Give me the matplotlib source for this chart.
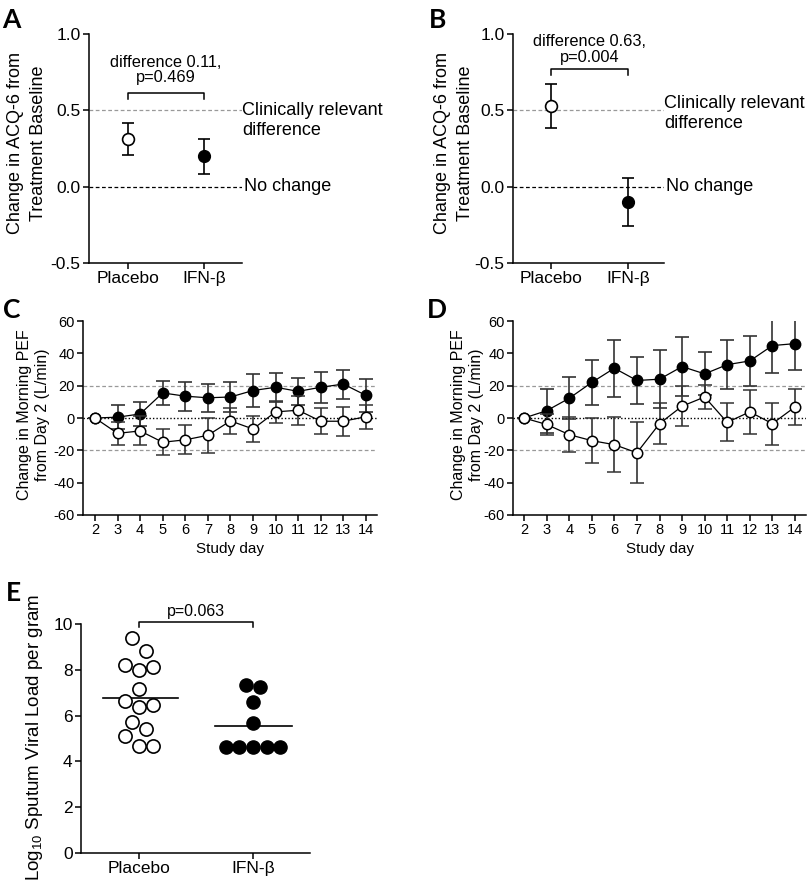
import numpy as np
import matplotlib
matplotlib.use("Agg")
import matplotlib.pyplot as plt

plt.rcParams['font.family'] = ['Liberation Sans', 'DejaVu Sans']
plt.rcParams['axes.unicode_minus'] = False
plt.rcParams['mathtext.fontset'] = 'custom'
plt.rcParams['mathtext.rm'] = 'Liberation Sans'

# ---- data ----
groups = ['Placebo', 'IFN-β']

# panels A / B : change in ACQ-6 (mean, SE)
acq_a_mean = [0.31, 0.20]
acq_a_se = [0.105, 0.115]
acq_b_mean = [0.53, -0.10]
acq_b_se = [0.145, 0.16]

# panels C / D : morning PEF by study day
days = [2, 3, 4, 5, 6, 7, 8, 9, 10, 11, 12, 13, 14]
pef_c_ifn = [0, 0.5, 2.5, 15.5, 13.5, 12.5, 13, 17, 19, 16.5, 19, 21, 14]
pef_c_ifn_se = [0, 7.5, 7.5, 7.5, 9, 8.5, 9, 10, 9, 8.5, 9.5, 9, 10]
pef_c_pla = [0, -9.5, -8, -15, -13.5, -10.7, -1.8, -6.8, 3.8, 4.8, -2, -2, 0.8]
pef_c_pla_se = [0, 7, 9, 8, 9, 11, 8, 8, 7, 9, 8, 9, 7.5]

pef_d_ifn = [0, 4.5, 12.2, 22, 30.8, 23.2, 24, 31.8, 27.3, 33, 35.3, 44.8, 46]
pef_d_ifn_se = [0, 13.5, 13, 13.7, 17.7, 14.7, 18, 18, 13.3, 15, 15.5, 17, 16.5]
pef_d_pla = [0, -4, -10.3, -14, -16.5, -21.5, -3.5, 7.3, 13, -2.7, 3.8, -3.5, 6.8]
pef_d_pla_se = [0, 6.5, 11, 13.8, 17, 19, 12.7, 12.5, 7.5, 11.7, 13.8, 13, 11]

# panel E : log10 sputum viral load per gram (listed top row first, left to right)
viral_pla = [9.39, 8.81, 8.21, 8.01, 8.11, 7.18, 6.63, 6.38, 6.48, 5.70, 5.41, 5.12, 4.67, 4.67]
viral_ifn = [7.34, 7.24, 6.60, 5.67, 4.65, 4.65, 4.65, 4.65, 4.65]

W, H = 812, 882
fig = plt.figure(figsize=(W / 100, H / 100), dpi=100)


def px_axes(l, t, r, b):
    return fig.add_axes([l / W, 1 - b / H, (r - l) / W, (b - t) / H])


def style(ax, fs):
    ax.spines['top'].set_visible(False)
    ax.spines['right'].set_visible(False)
    ax.spines['left'].set_linewidth(1.1)
    ax.spines['bottom'].set_linewidth(1.1)
    ax.tick_params(direction='out', length=4, width=1.1, labelsize=fs, pad=2)


def acq_panel(ax, mean, se, brk_y, txt, txt_y, clin_y):
    style(ax, 12.5)
    x = [1, 2]
    ax.axhline(0.5, color='#999999', ls=(0, (3, 2)), lw=0.9, zorder=1)
    ax.axhline(0.0, color='black', ls=(0, (3, 2)), lw=0.9, zorder=1)
    ax.errorbar(x[0], mean[0], yerr=se[0], fmt='o', mfc='white', mec='black', mew=1.2,
                ms=8.5, ecolor='black', elinewidth=1.2, capsize=4.3, capthick=1.2, zorder=3)
    ax.errorbar(x[1], mean[1], yerr=se[1], fmt='o', mfc='black', mec='black',
                ms=8.5, ecolor='black', elinewidth=1.2, capsize=4.3, capthick=1.2, zorder=3)
    ax.plot([1, 1, 2, 2], [brk_y - 0.04, brk_y, brk_y, brk_y - 0.04], color='black', lw=1.1)
    ax.text(1.5, txt_y, txt, ha='center', va='center', fontsize=11.8, linespacing=1.05)
    ax.set_ylim(-0.5, 1.0)
    ax.set_yticks([-0.5, 0.0, 0.5, 1.0])
    ax.set_yticklabels(['%.1f' % v for v in [-0.5, 0.0, 0.5, 1.0]])
    ax.set_xticks(x)
    ax.set_xticklabels(groups)
    ax.text(1.0, clin_y, 'Clinically relevant\ndifference', transform=ax.get_yaxis_transform(),
            ha='left', va='center', fontsize=13, linespacing=1.2, clip_on=False)
    ax.text(1.01, 0.0, 'No change', transform=ax.get_yaxis_transform(),
            ha='left', va='center', fontsize=13, clip_on=False)


axA = px_axes(89, 34, 242, 263)
axA.set_xlim(0.49, 2.5)
acq_panel(axA, acq_a_mean, acq_a_se, 0.614, 'difference 0.11,\np=0.469', 0.765, 0.432)

axB = px_axes(513, 34, 664, 263)
axB.set_xlim(0.506, 2.47)
acq_panel(axB, acq_b_mean, acq_b_se, 0.771, 'difference 0.63,\np=0.004', 0.90, 0.478)


def pef_panel(ax, ifn, ifn_se, pla, pla_se):
    style(ax, 10.5)
    ax.axhline(20, color='#999999', ls=(0, (3, 2)), lw=0.9, zorder=1)
    ax.axhline(-20, color='#999999', ls=(0, (3, 2)), lw=0.9, zorder=1)
    ax.axhline(0, color='black', ls=(0, (1, 1.5)), lw=1.0, zorder=1)
    ax.errorbar(days, ifn, yerr=ifn_se, fmt='-o', color='black', lw=0.9, mfc='black',
                ms=7.5, ecolor='#333333', elinewidth=1.2, capsize=5, capthick=1.2, zorder=3)
    ax.errorbar(days, pla, yerr=pla_se, fmt='-o', color='black', lw=0.9, mfc='white',
                mec='black', mew=1.1, ms=7.5, ecolor='#333333', elinewidth=1.2,
                capsize=5, capthick=1.2, zorder=4)
    ax.set_ylim(-60, 60)
    ax.set_yticks(range(-60, 61, 20))
    ax.set_xticks(days)
    ax.set_xlabel('Study day', fontsize=11, labelpad=3)


axC = px_axes(83, 321, 377, 515)
axC.set_xlim(1.47, 14.49)
pef_panel(axC, pef_c_ifn, pef_c_ifn_se, pef_c_pla, pef_c_pla_se)

axD = px_axes(513, 321, 806, 515)
axD.set_xlim(1.51, 14.49)
pef_panel(axD, pef_d_ifn, pef_d_ifn_se, pef_d_pla, pef_d_pla_se)

# ---- panel E ----
axE = px_axes(81, 624, 310, 853)
style(axE, 12.5)
axE.set_xlim(0.49, 2.5)
axE.set_ylim(0, 10)
axE.set_yticks(range(0, 11, 2))
axE.set_xticks([1, 2])
axE.set_xticklabels(groups)


def row_scatter(x0, vals, row_h, step):
    # group points into rows from the bottom up, centre each row on x0
    vals = np.asarray(vals)
    xs = np.zeros(len(vals))
    order = np.argsort(vals, kind='stable')
    rows = []
    for i in order:
        if rows and vals[i] - vals[rows[-1][0]] < row_h:
            rows[-1].append(i)
        else:
            rows.append([i])
    for r in rows:
        r = sorted(r)  # keep listed (left to right) order
        n = len(r)
        for k, i in enumerate(r):
            xs[i] = x0 + (k - (n - 1) / 2) * step
    return xs


step = 13.7 / 114.0  # one marker width in data units
xp = row_scatter(1, viral_pla, 0.6, step)
xi = row_scatter(2, viral_ifn, 0.6, step)
axE.plot(xp, viral_pla, 'o', mfc='white', mec='black', mew=1.2, ms=9.5, ls='none', zorder=3)
axE.plot(xi, viral_ifn, 'o', mfc='black', mec='black', ms=9.5, ls='none', zorder=3)
axE.plot([0.68, 1.34], [np.mean(viral_pla)] * 2, color='black', lw=1.2, zorder=2)
axE.plot([1.67, 2.34], [np.mean(viral_ifn)] * 2, color='black', lw=1.2, zorder=2)
axE.plot([1, 1, 2, 2], [9.87, 10.1, 10.1, 9.87], color='black', lw=1.1, clip_on=False)
axE.text(1.5, 10.55, 'p=0.063', ha='center', va='center', fontsize=11.5)

# ---- y labels ----
fig.text(27 / W, 1 - 143 / H, 'Change in ACQ-6 from\nTreatment Baseline', rotation=90,
         ha='center', va='center', fontsize=13, linespacing=1.4)
fig.text(454 / W, 1 - 143 / H, 'Change in ACQ-6 from\nTreatment Baseline', rotation=90,
         ha='center', va='center', fontsize=13, linespacing=1.4)
fig.text(34 / W, 1 - 415 / H, 'Change in Morning PEF\nfrom Day 2 (L/min)', rotation=90,
         ha='center', va='center', fontsize=11.5, linespacing=1.25)
fig.text(467 / W, 1 - 415 / H, 'Change in Morning PEF\nfrom Day 2 (L/min)', rotation=90,
         ha='center', va='center', fontsize=11.5, linespacing=1.25)
fig.text(35 / W, 1 - 737 / H, 'Log$_{10}$ Sputum Viral Load per gram', rotation=90,
         ha='center', va='center', fontsize=13.5)

# ---- panel letters ----
for lab, x, y in [('A', 2, 20), ('B', 429, 20), ('C', 3, 310), ('D', 427, 310), ('E', 6, 593)]:
    fig.text(x / W, 1 - y / H, lab, ha='left', va='center', fontsize=19,
             fontweight='bold', family=['Lato', 'DejaVu Sans'])

fig.savefig('out.png', dpi=100)
